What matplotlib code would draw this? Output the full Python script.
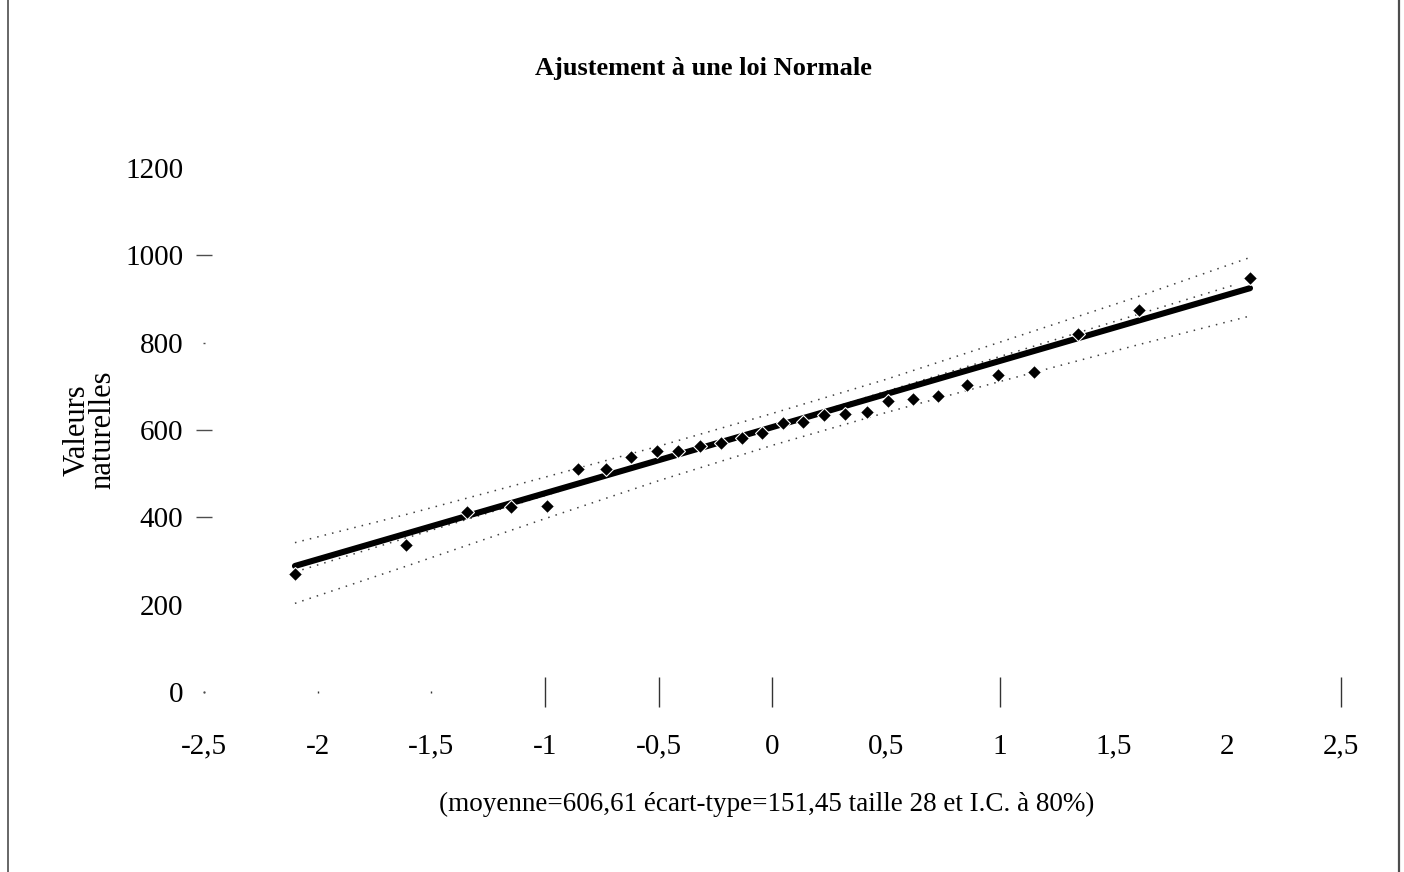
import matplotlib.pyplot as plt
from matplotlib.lines import Line2D

# quantiles of the normal law (x) and sorted sample values (y)
quantiles = [-2.10, -1.61, -1.345, -1.15, -0.99, -0.855, -0.73, -0.62, -0.51, -0.415,
             -0.32, -0.225, -0.134, -0.045, 0.045, 0.134, 0.225, 0.32, 0.415, 0.51,
             0.62, 0.73, 0.855, 0.99, 1.15, 1.345, 1.61, 2.10]
valeurs = [270, 337, 412, 424, 426, 510, 510, 538, 551, 551,
           564, 570, 581, 594, 616, 618, 635, 637, 642, 666,
           672, 678, 702, 726, 733, 820, 875, 948]

# fitted normal line (moyenne + ecart-type * z)
fit_x = [-2.10, 2.10]
fit_y = [288.6, 924.7]

# least squares line (inner dotted)
reg_x = [-2.10, 2.03]
reg_y = [275, 932]

# 80% confidence band
band_x = [-2.1, -1.6, -1.0, -0.5, 0, 0.5, 1.0, 1.6, 2.1]
band_up = [342, 408, 492, 563, 638, 716, 801, 904, 995]
band_lo = [203, 290, 397, 484, 565, 640, 711, 794, 861]

xticks = [-2.5, -2, -1.5, -1, -0.5, 0, 0.5, 1, 1.5, 2, 2.5]
xlabels = ['-2,5', '-2', '-1,5', '-1', '-0,5', '0', '0,5', '1', '1,5', '2', '2,5']
yticks = [0, 200, 400, 600, 800, 1000, 1200]

plt.rcParams['font.family'] = ['Liberation Serif', 'DejaVu Serif']

fig = plt.figure(figsize=(14.04, 8.72), dpi=100)
ax = fig.add_axes([0.1453, 0.2064, 0.8098, 0.601])

dots = (0, (1, 4))
ax.plot(band_x, band_up, color='0.25', lw=1.1, linestyle=dots)
ax.plot(band_x, band_lo, color='0.25', lw=1.1, linestyle=dots)
ax.plot(reg_x, reg_y, color='0.25', lw=1.1, linestyle=dots)
ax.plot(fit_x, fit_y, color='black', lw=4.4, solid_capstyle='round')
ax.plot(quantiles, valeurs, linestyle='none', marker='D', ms=7.5,
        color='black', markeredgecolor='white', markeredgewidth=0.8)

ax.set_xlim(-2.5, 2.5)
ax.set_ylim(0, 1200)
for s in ax.spines.values():
    s.set_visible(False)
ax.set_xticks(xticks)
ax.set_xticklabels(xlabels)
ax.set_yticks(yticks)
ax.tick_params(axis='x', direction='inout', length=22, width=1, color='0.2',
               labelsize=21, pad=19)
ax.tick_params(axis='y', direction='inout', length=12, width=1, color='0.3',
               labelsize=21, pad=9)

# the scanned ticks come out unevenly: some bars, some specks, some missing
xtick_len = [2, 2, 2, 22, 22, 22, 0, 22, 0, 0, 22]
for t, ln in zip(ax.xaxis.get_major_ticks(), xtick_len):
    t.tick1line.set_markersize(ln)
ytick_len = [2, 0, 12, 12, 2, 12, 0]
for t, ln in zip(ax.yaxis.get_major_ticks(), ytick_len):
    t.tick1line.set_markersize(ln)

fig.text(0.501, 0.921, 'Ajustement à une loi Normale', ha='center', va='center',
         fontsize=19, fontweight='bold')
fig.text(0.064, 0.507, 'Valeurs\nnaturelles', ha='center', va='center',
         rotation=90, fontsize=22, multialignment='center', linespacing=0.85)
fig.text(0.546, 0.078, '(moyenne=606,61 écart-type=151,45 taille 28 et I.C. à 80%)',
         ha='center', va='center', fontsize=19.5)

# side rules of the frame
fig.add_artist(Line2D([0.006, 0.006], [0, 1], transform=fig.transFigure,
                      color='0.3', lw=1.2))
fig.add_artist(Line2D([0.9965, 0.9965], [0, 1], transform=fig.transFigure,
                      color='0.3', lw=1.6))

fig.savefig('out.png', dpi=100)
